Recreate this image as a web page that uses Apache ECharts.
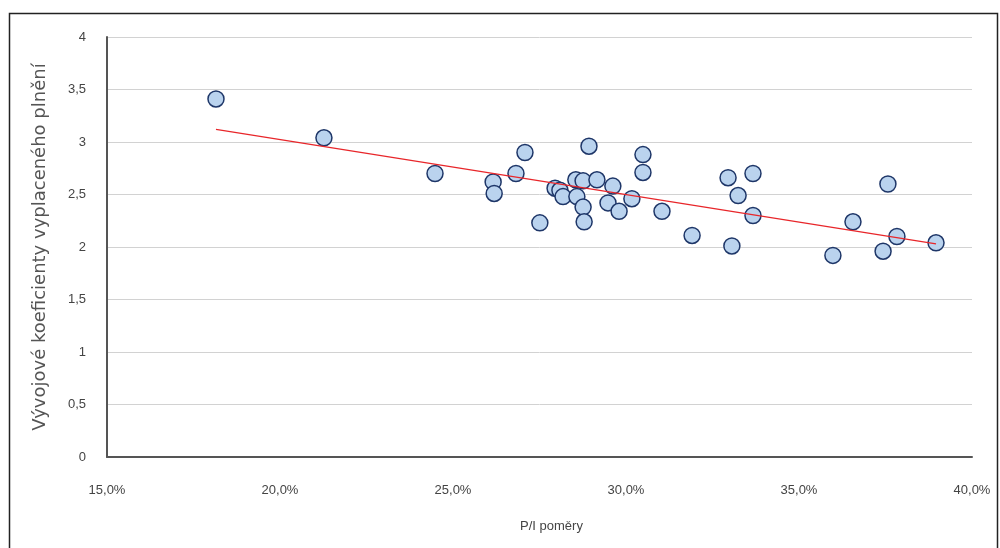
<!DOCTYPE html>
<html>
<head>
<meta charset="utf-8">
<script src="https://cdn.jsdelivr.net/npm/echarts@6/dist/echarts.min.js"></script>
<style>
html,body{margin:0;padding:0;background:#fff;}
#chart{width:1000px;height:548px;}
</style>
</head>
<body>
<div id="chart"></div>
<script>
// P/I ratio (%) values
const plRatios = [18.15, 21.27, 24.48, 26.16, 26.19, 26.82, 27.08, 27.51, 27.95, 28.09,
  28.18, 28.55, 28.76, 28.58, 28.76, 28.79, 28.93, 29.16, 29.62, 29.48,
  29.80, 30.17, 30.49, 30.49, 31.04, 31.91, 32.95, 33.67, 33.24, 33.67,
  33.06, 35.98, 36.56, 37.57, 37.43, 37.83, 38.96];
// development factors of paid claims
const devFactors = [3.41, 3.04, 2.70, 2.62, 2.51, 2.70, 2.90, 2.23, 2.56, 2.54,
  2.48, 2.64, 2.63, 2.48, 2.38, 2.24, 2.96, 2.64, 2.58, 2.42,
  2.34, 2.46, 2.88, 2.71, 2.34, 2.11, 2.66, 2.70, 2.49, 2.30,
  2.01, 1.92, 2.24, 2.60, 1.96, 2.10, 2.04];
// trend line endpoints
const trendX = [18.15, 38.96];
const trendY = [3.12, 2.03];

const xTicks = {min: 15, max: 40, interval: 5};
const yTicks = {min: 0, max: 4, interval: 0.5};
const xName = 'P/I poměry';
const yName = 'Vývojové koeficienty vyplaceného plnění';

const points = plRatios.map((x, i) => [x, devFactors[i]]);
const trend = trendX.map((x, i) => [x, trendY[i]]);

const fmt = v => String(v).replace('.', ',');
const chart = echarts.init(document.getElementById('chart'));
chart.setOption({
  backgroundColor: '#fff',
  animation: false,
  textStyle: {fontFamily: '"Liberation Sans", Arial, sans-serif'},
  grid: {left: 107, right: 28, top: 37, bottom: 91},
  graphic: [{
    type: 'rect', left: 7, top: 11, z: 100, silent: true,
    shape: {width: 988, height: 560},
    style: {fill: 'none', stroke: '#222', lineWidth: 1.5}
  }],
  xAxis: {
    type: 'value', min: xTicks.min, max: xTicks.max, interval: xTicks.interval,
    name: xName, nameLocation: 'middle', nameGap: 63,
    nameTextStyle: {fontSize: 13, color: '#444', padding: [0, 0, 0, 24]},
    axisLine: {show: true, onZero: false, lineStyle: {color: '#555', width: 2}},
    axisTick: {show: false},
    splitLine: {show: false},
    axisLabel: {fontSize: 13, color: '#444', margin: 27,
      formatter: v => v.toFixed(1).replace('.', ',') + '%'}
  },
  yAxis: {
    type: 'value', min: yTicks.min, max: yTicks.max, interval: yTicks.interval,
    name: yName, nameLocation: 'middle', nameGap: 58, nameRotate: 90,
    nameTextStyle: {fontSize: 18, color: '#555', fontFamily: '"DejaVu Sans", sans-serif'},
    axisLine: {show: true, lineStyle: {color: '#555', width: 2}},
    axisTick: {show: false},
    splitLine: {show: true, lineStyle: {color: '#d2d2d2', width: 1}},
    axisLabel: {fontSize: 13, color: '#444', margin: 21, formatter: fmt}
  },
  series: [{
    type: 'scatter', data: points, symbol: 'circle', symbolSize: 16, z: 2,
    itemStyle: {color: '#bad3ee', borderColor: '#1e3668', borderWidth: 1.5, opacity: 1}
  }, {
    type: 'line', data: trend, symbol: 'none', z: 3,
    lineStyle: {color: '#e8262a', width: 1.2}
  }]
});
</script>
</body>
</html>
